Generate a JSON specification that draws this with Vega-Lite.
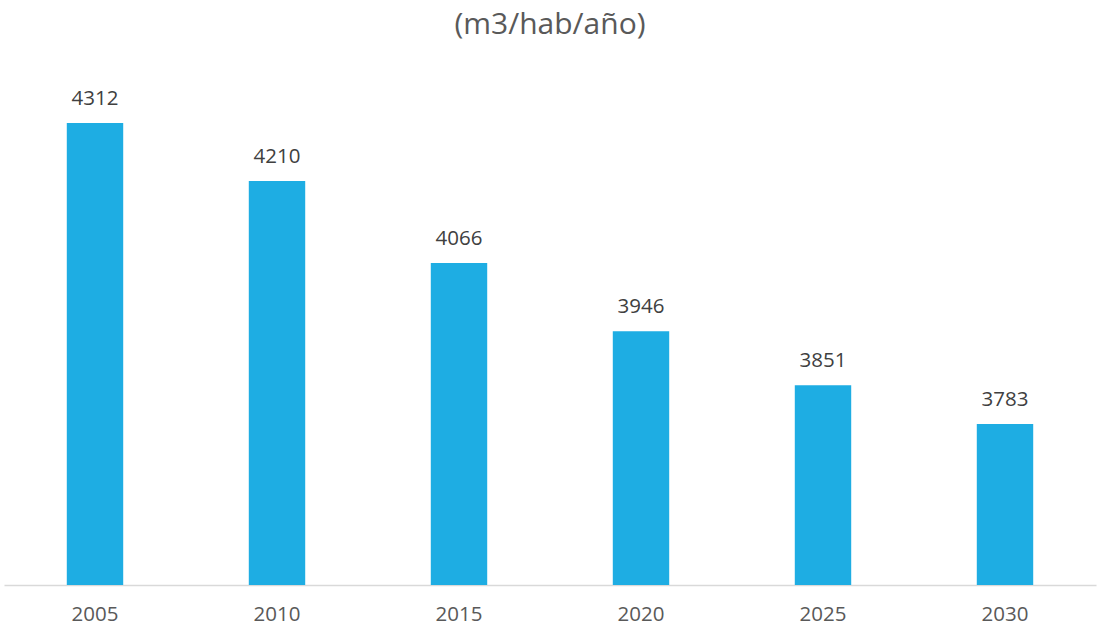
{
  "$schema": "https://vega.github.io/schema/vega-lite/v6.json",
  "autosize": {"type": "none"},
  "width": 1092,
  "height": 512,
  "padding": {"left": 4, "top": 73, "right": 3, "bottom": 46},
  "title": {"text": "(m3/hab/año)", "font": "Open Sans", "fontSize": 30, "fontWeight": "normal", "color": "#595959", "anchor": "middle", "offset": 3, "baseline": "bottom"},
  "config": {"view": {"stroke": null}, "font": "Open Sans"},
  "data": {"values": [
    {"year": "2005", "value": 4312},
    {"year": "2010", "value": 4210},
    {"year": "2015", "value": 4066},
    {"year": "2020", "value": 3946},
    {"year": "2025", "value": 3851},
    {"year": "2030", "value": 3783}
  ]},
  "encoding": {
    "x": {"field": "year", "type": "nominal", "sort": null,
      "scale": {"paddingInner": 0.69, "paddingOuter": 0.345},
      "axis": {"title": null, "labelAngle": 0, "ticks": false, "domainColor": "#d9d9d9", "domainWidth": 1.5, "labelFont": "Open Sans", "labelFontSize": 20.5, "labelColor": "#595959", "labelPadding": 19}},
    "y": {"field": "value", "type": "quantitative", "scale": {"domain": [3500, 4400], "zero": false, "nice": false}, "axis": null}
  },
  "layer": [
    {"mark": {"type": "bar", "color": "#1eade3", "clip": true}},
    {"mark": {"type": "text", "dy": -14, "baseline": "bottom", "fontSize": 20.5, "color": "#404040", "font": "Open Sans"}, "encoding": {"text": {"field": "value", "type": "quantitative", "format": "d"}}}
  ]
}
